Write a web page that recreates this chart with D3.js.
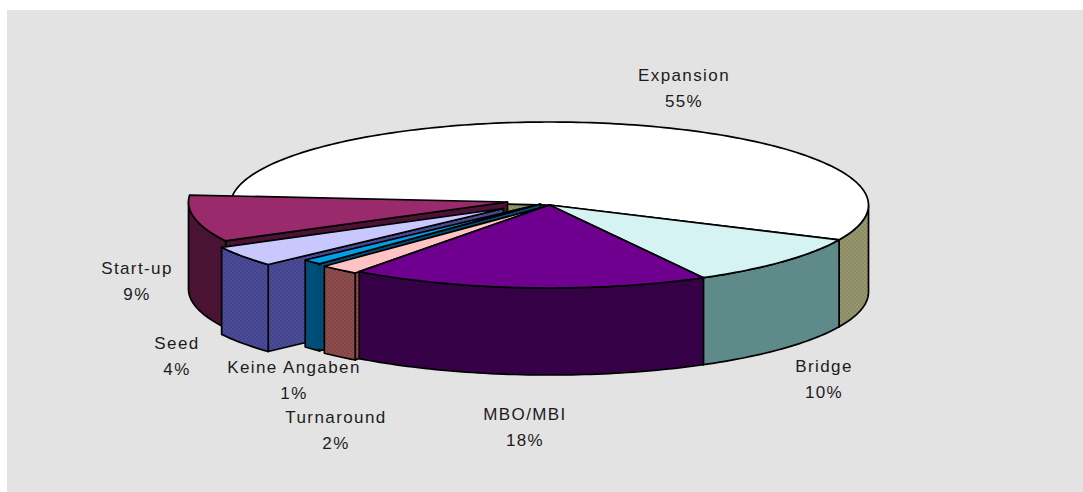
<!DOCTYPE html>
<html>
<head>
<meta charset="utf-8">
<script src="https://cdn.jsdelivr.net/npm/d3@7/dist/d3.min.js"></script>
<style>
  html, body { margin: 0; padding: 0; background: #fff; }
  svg { display: block; }
  text { font-family: "Liberation Sans", Arial, sans-serif; font-size: 17px; letter-spacing: 1.4px; fill: #1c1c1c; }
</style>
</head>
<body>
<svg id="chart" width="1083" height="492"></svg>
<script>
// Investment stages, in percent, clockwise from the lower right of the disc.
const categories = ["Bridge", "MBO/MBI", "Turnaround", "Keine Angaben", "Seed", "Start-up", "Expansion"];
const shares = [10, 18, 2, 1, 4, 9, 55];
const topColors = ["#d5f3f3", "#6f008f", "#ffc3c3", "#009fe6", "#c8c8ff", "#992a6c", "#ffffff"];
const wallColors = ["#5f8a8a", "#360047", "#8f4d4d", "#004f78", "#4b4b99", "#4b1333", "#98986f"];
const ditheredWalls = [false, false, true, false, true, false, true];
const openSeam = [false, false, false, true, false, false, false];

// Pixel offset of each exploded wedge.
const explodeX = [0, 0, -4, -9, -46, -42, 0];
const explodeY = [0, 0, 1.4, -1, 3.5, -3, 0];

// Centre of each two-line label.
const labelX = [824, 525, 336, 294, 177, 137, 684];
const labelY = [366, 414, 417, 367, 343, 268, 75];

const cx = 549.5, cy = 205, rx = 319, ry = 83, depth = 87;
const firstAngle = 24.8 * Math.PI / 180;   // measured on the ellipse, clockwise from 3 o'clock

const svg = d3.select("#chart");

// Fine checker laid over the walls that print with a halftone.
const dither = svg.append("defs").append("pattern")
  .attr("id", "dither").attr("patternUnits", "userSpaceOnUse")
  .attr("width", 4).attr("height", 4);
dither.append("rect").attr("width", 2).attr("height", 2).attr("fill", "#000").attr("opacity", 0.09);
dither.append("rect").attr("x", 2).attr("y", 2).attr("width", 2).attr("height", 2).attr("fill", "#000").attr("opacity", 0.09);

svg.append("rect").attr("x", 7).attr("y", 10).attr("width", 1076).attr("height", 482).attr("fill", "#e3e3e3");

const px = d3.scaleLinear().domain([-1, 1]).range([cx - rx, cx + rx]);
const py = d3.scaleLinear().domain([-1, 1]).range([cy - ry, cy + ry]);

const pie = d3.pie().sort(null).value(d => d)
  .startAngle(firstAngle + Math.PI / 2)
  .endAngle(firstAngle + Math.PI / 2 + 2 * Math.PI);

const slices = pie(shares).map((a, i) => ({
  i,
  t0: a.startAngle - Math.PI / 2,
  t1: a.endAngle - Math.PI / 2
}));

const line = d3.line();

function arcPoints(t0, t1, dx, dy) {
  const n = Math.max(2, Math.ceil((t1 - t0) / 0.02));
  return d3.range(n + 1).map(k => {
    const t = t0 + (t1 - t0) * k / n;
    return [px(Math.cos(t)) + dx, py(Math.sin(t)) + dy];
  });
}

function addPath(pts, fill, halftone) {
  const d = line(pts) + "Z";
  svg.append("path")
    .attr("d", d)
    .attr("fill", fill)
    .attr("stroke", "#000")
    .attr("stroke-width", 1.7)
    .attr("stroke-linejoin", "round");
  if (halftone) svg.append("path").attr("d", d).attr("fill", "url(#dither)");
}

function radialWall(t, dx, dy, fill, halftone) {
  const hub = [px(0) + dx, py(0) + dy];
  const rim = [px(Math.cos(t)) + dx, py(Math.sin(t)) + dy];
  addPath([hub, rim, [rim[0], rim[1] + depth], [hub[0], hub[1] + depth]], fill, halftone);
}

function outerWalls(t0, t1, dx, dy, fill, halftone) {
  // The rim faces the viewer only on the lower half of the ellipse.
  for (const k of [0, 2]) {
    const a = Math.max(t0, k * Math.PI), b = Math.min(t1, (k + 1) * Math.PI);
    if (b <= a) continue;
    const upper = arcPoints(a, b, dx, dy);
    const lower = upper.map(p => [p[0], p[1] + depth]).reverse();
    addPath(upper.concat(lower), fill, halftone);
  }
}

// Painter's order: far wedge first, the undisplaced front wedges last.
const drawOrder = [6, 5, 4, 3, 2, 0, 1];
drawOrder.forEach(i => {
  const s = slices[i], dx = explodeX[i], dy = explodeY[i], wall = wallColors[i], ht = ditheredWalls[i];
  if (Math.cos(s.t0) < 0) radialWall(s.t0, dx, dy, wall, ht);
  if (Math.cos(s.t1) > 0) radialWall(s.t1, dx, dy, wall, ht);
  outerWalls(s.t0, s.t1, dx, dy, wall, ht);
  if (openSeam[i]) {
    // Rim and cut face read as one surface on this thin wedge.
    const x = px(Math.cos(s.t0)) + dx, y = py(Math.sin(s.t0)) + dy;
    svg.append("path")
      .attr("d", line([[x, y + 2], [x, y + depth - 2]]))
      .attr("stroke", wall).attr("stroke-width", 2.4).attr("fill", "none");
  }
  addPath([[px(0) + dx, py(0) + dy]].concat(arcPoints(s.t0, s.t1, dx, dy)), topColors[i], false);
});

const labels = svg.append("g").attr("text-anchor", "middle");
categories.forEach((name, i) => {
  labels.append("text").attr("x", labelX[i]).attr("y", labelY[i] + 6).text(name);
  labels.append("text").attr("x", labelX[i]).attr("y", labelY[i] + 32).text(shares[i] + "%");
});
</script>
</body>
</html>
